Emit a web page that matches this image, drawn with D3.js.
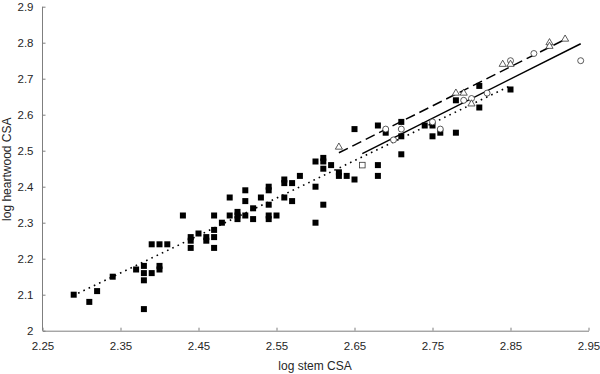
<!DOCTYPE html>
<html>
<head>
<meta charset="utf-8">
<script src="https://cdn.jsdelivr.net/npm/d3@7"></script>
<style>
  body { margin: 0; background: #fff; }
  text { font-family: "Liberation Sans", Arial, sans-serif; fill: #262626; }
</style>
</head>
<body>
<div id="chart"></div>
<script>
const width = 600;
const height = 374;
const margin = { left: 42.5, right: 11.5, top: 6.7, bottom: 43.3 };

// log stem CSA, log heartwood CSA
const filledSquares = [
  [2.29, 2.10], [2.31, 2.08], [2.32, 2.11], [2.34, 2.15], [2.37, 2.17],
  [2.38, 2.18], [2.38, 2.16], [2.38, 2.14], [2.38, 2.06], [2.39, 2.16],
  [2.40, 2.18], [2.40, 2.17], [2.39, 2.24], [2.40, 2.24], [2.41, 2.24],
  [2.43, 2.32], [2.44, 2.26], [2.44, 2.25], [2.44, 2.23], [2.45, 2.27],
  [2.46, 2.26], [2.46, 2.25], [2.47, 2.32], [2.47, 2.28], [2.47, 2.26],
  [2.47, 2.23], [2.48, 2.30], [2.49, 2.37], [2.49, 2.32], [2.50, 2.33],
  [2.50, 2.32], [2.50, 2.31], [2.51, 2.39], [2.51, 2.36], [2.51, 2.32],
  [2.52, 2.34], [2.52, 2.31], [2.53, 2.37], [2.54, 2.40], [2.54, 2.39],
  [2.54, 2.35], [2.54, 2.32], [2.54, 2.31], [2.55, 2.32], [2.56, 2.42],
  [2.56, 2.41], [2.56, 2.37], [2.57, 2.41], [2.57, 2.36], [2.58, 2.43],
  [2.60, 2.47], [2.60, 2.40], [2.60, 2.30], [2.61, 2.48], [2.61, 2.47],
  [2.61, 2.45], [2.61, 2.35], [2.62, 2.46], [2.63, 2.44], [2.63, 2.43],
  [2.64, 2.43], [2.65, 2.56], [2.65, 2.42], [2.68, 2.57], [2.68, 2.46],
  [2.68, 2.43], [2.69, 2.55], [2.71, 2.58], [2.71, 2.54], [2.71, 2.49],
  [2.74, 2.57], [2.75, 2.57], [2.75, 2.54], [2.76, 2.55], [2.78, 2.55],
  [2.78, 2.64], [2.81, 2.62], [2.81, 2.68], [2.85, 2.67]
];
const openCircles = [
  [2.69, 2.56], [2.70, 2.53], [2.71, 2.56], [2.75, 2.58], [2.76, 2.56],
  [2.79, 2.64], [2.80, 2.645], [2.82, 2.66], [2.85, 2.75], [2.88, 2.77],
  [2.94, 2.75]
];
const openTriangles = [
  [2.63, 2.51], [2.78, 2.66], [2.79, 2.66], [2.80, 2.63], [2.84, 2.74],
  [2.85, 2.74], [2.90, 2.80], [2.90, 2.79], [2.92, 2.81]
];
const openSquares = [
  [2.66, 2.46]
];

// fitted lines: name, x from, x to, slope, intercept
const fitNames = ['dotted', 'solid', 'dashed'];
const fitFrom = [2.289, 2.66, 2.63];
const fitTo = [2.85, 2.94, 2.922];
const fitSlope = [1.04, 1.09, 1.086];
const fitIntercept = [-0.2836, -0.4074, -0.362];

const xTicks = [2.25, 2.35, 2.45, 2.55, 2.65, 2.75, 2.85, 2.95];
const yTicks = [2, 2.1, 2.2, 2.3, 2.4, 2.5, 2.6, 2.7, 2.8, 2.9];

const w = width - margin.left - margin.right;
const h = height - margin.top - margin.bottom;

const svg = d3.select('#chart')
  .append('svg')
    .attr('width', width)
    .attr('height', height)
  .append('g')
    .attr('transform', `translate(${margin.left},${margin.top})`);

const x = d3.scaleLinear().domain([2.25, 2.95]).range([0, w]);
const y = d3.scaleLinear().domain([2, 2.9]).range([h, 0]);

let xAxis = svg.append('g')
  .attr('transform', `translate(0,${h})`)
  .call(d3.axisBottom(x).tickValues(xTicks).tickFormat(d3.format('.2f'))
    .tickSizeInner(-3).tickSizeOuter(0).tickPadding(11));
let yAxis = svg.append('g')
  .call(d3.axisLeft(y).tickValues(yTicks).tickFormat(d3.format('~g'))
    .tickSizeInner(-3).tickSizeOuter(0).tickPadding(9));

[xAxis, yAxis].forEach(a => {
  a.select('.domain').attr('stroke', '#7f7f7f');
  a.selectAll('.tick line').attr('stroke', '#7f7f7f');
  a.selectAll('.tick text').style('font-size', '11.5px').attr('fill', '#262626');
});
// y axis line extends to top of range
yAxis.select('.domain').attr('d', `M0,${h}V0`);

svg.append('text')
  .attr('x', x(2.25) + 272.5)
  .attr('y', h + 39)
  .attr('text-anchor', 'middle')
  .style('font-size', '12px')
  .text('log stem CSA');

svg.append('text')
  .attr('transform', `translate(${-32},${y(2.45) + 0.5}) rotate(-90)`)
  .attr('text-anchor', 'middle')
  .style('font-size', '12px')
  .text('log heartwood CSA');

const dashes = { dotted: '1.6,4.2', solid: null, dashed: '10,5' };
const widths = { dotted: 1.6, solid: 1.5, dashed: 1.5 };

fitNames.forEach((name, i) => {
  let f = v => fitIntercept[i] + fitSlope[i] * v;
  svg.append('line')
    .attr('x1', x(fitFrom[i])).attr('y1', y(f(fitFrom[i])))
    .attr('x2', x(fitTo[i])).attr('y2', y(f(fitTo[i])))
    .attr('stroke', '#000')
    .attr('stroke-width', widths[name])
    .attr('stroke-dasharray', dashes[name]);
});

const sq = 6;
svg.selectAll('.fsq').data(filledSquares).enter()
  .append('rect')
    .attr('class', 'fsq')
    .attr('x', d => x(d[0]) - sq / 2)
    .attr('y', d => y(d[1]) - sq / 2)
    .attr('width', sq)
    .attr('height', sq)
    .attr('fill', '#000');

svg.selectAll('.osq').data(openSquares).enter()
  .append('rect')
    .attr('class', 'osq')
    .attr('x', d => x(d[0]) - 2.8)
    .attr('y', d => y(d[1]) - 2.8)
    .attr('width', 5.6)
    .attr('height', 5.6)
    .attr('fill', '#fff')
    .attr('stroke', '#333')
    .attr('stroke-width', 0.8);

svg.selectAll('.ocir').data(openCircles).enter()
  .append('circle')
    .attr('class', 'ocir')
    .attr('cx', d => x(d[0]))
    .attr('cy', d => y(d[1]))
    .attr('r', 3)
    .attr('fill', '#fff')
    .attr('stroke', '#333')
    .attr('stroke-width', 0.8);

const tri = d3.symbol().type(d3.symbolTriangle).size(22);
svg.selectAll('.otri').data(openTriangles).enter()
  .append('path')
    .attr('class', 'otri')
    .attr('d', tri)
    .attr('transform', d => `translate(${x(d[0])},${y(d[1])})`)
    .attr('fill', '#fff')
    .attr('stroke', '#333')
    .attr('stroke-width', 0.8);
</script>
</body>
</html>
